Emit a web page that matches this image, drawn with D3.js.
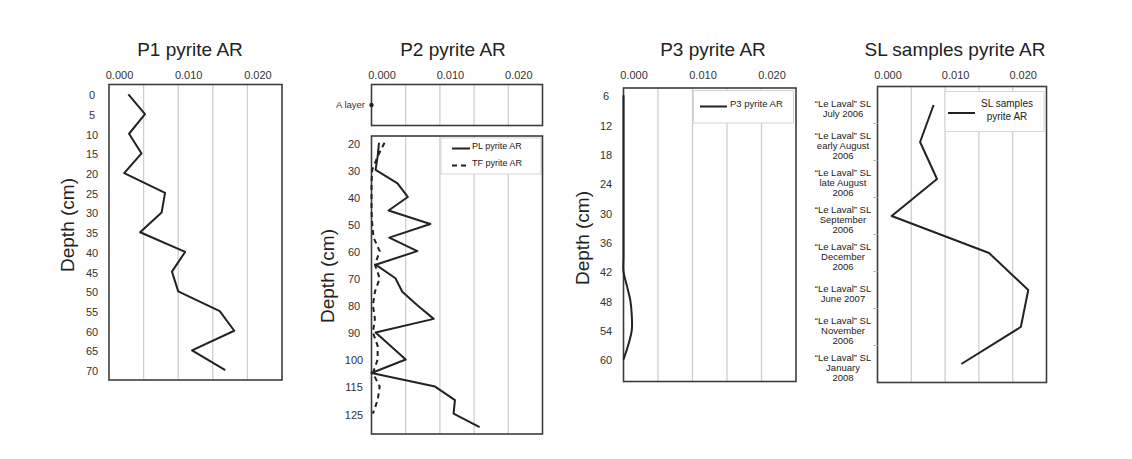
<!DOCTYPE html>
<html>
<head>
<meta charset="utf-8">
<script src="https://cdn.jsdelivr.net/npm/d3@7"></script>
<style>
  body { margin: 0; background: #fff; }
  svg { font-family: 'Liberation Sans', Arial, sans-serif; }
</style>
</head>
<body>
<svg id="chart" width="1132" height="459"></svg>
<script>
// x axis (pyrite AR) shared by all panels
const xLabelValues = [0, 0.01, 0.02];
const xGridValues = [0.005, 0.01, 0.015, 0.02];

// P1 profile
const p1Depths = ['0', '5', '10', '15', '20', '25', '30', '35', '40', '45', '50', '55', '60', '65', '70'];
const p1Values = [0.0028, 0.0052, 0.0029, 0.0047, 0.0022, 0.0081, 0.0076, 0.0045, 0.0110, 0.0091, 0.0100, 0.0160, 0.0181, 0.0120, 0.0168];

// P2 profile (A layer + PL / TF lines)
const p2ALayer = ['A layer'];
const p2ALayerValues = [0];
const p2Depths = ['20', '25', '30', '35', '40', '45', '50', '55', '60', '65', '70', '75', '80', '85', '90', '95', '100', '105', '115', '120', '125', '130'];
const p2PL = [0.0011, 0.0009, 0.0006, 0.0038, 0.0053, 0.0025, 0.0086, 0.0026, 0.0067, 0.0006, 0.0035, 0.0045, 0.0067, 0.0091, 0.0006, 0.0028, 0.0050, 0.0000, 0.0093, 0.0122, 0.0120, 0.0158];
const p2TF = [0.0019, 0.0009, 0.0001, 0, 0, 0, 0.0001, 0.0003, 0.0012, 0.0005, 0.0012, 0.0005, 0.0002, 0.0005, 0.0002, 0.0009, 0.0009, 0.0002, 0.0012, 0.0009, 0.0002];

// P3 profile
const p3Depths = ['6', '9', '12', '15', '18', '21', '24', '27', '30', '33', '36', '39', '42', '45', '48', '51', '54', '57', '60', '63'];
const p3Values = [0, 0, 0, 0, 0, 0, 0, 0, 0, 0, 0, 0, 0, 0.0005, 0.0010, 0.0012, 0.0012, 0.0007, 0];

// SL samples
const slSamples = [
  ['\u201CLe Laval\u201D SL', 'July 2006'],
  ['\u201CLe Laval\u201D SL', 'early August', '2006'],
  ['\u201CLe Laval\u201D SL', 'late August', '2006'],
  ['\u201CLe Laval\u201D SL', 'September', '2006'],
  ['\u201CLe Laval\u201D SL', 'December', '2006'],
  ['\u201CLe Laval\u201D SL', 'June 2007'],
  ['\u201CLe Laval\u201D SL', 'November', '2006'],
  ['\u201CLe Laval\u201D SL', 'January', '2008'],
];
const slValues = [0.0083, 0.0063, 0.0088, 0.0021, 0.0165, 0.0223, 0.0212, 0.0124];

const svg = d3.select('#chart');
const FONT = "'Liberation Sans', Arial, sans-serif";
const BORDER = '#3c3c3c';
const GRID = '#cfcfcf';
const INK = '#222';

function makeX(x0, x1) {
  return d3.scaleLinear().domain([0, 0.025]).range([x0, x1]);
}

function makeY(domain, top, bottom) {
  return d3.scalePoint().domain(domain).range([top, bottom]).padding(0.5);
}

function grid(x, top, bottom) {
  svg.append('g')
    .selectAll('line')
    .data(xGridValues)
    .enter()
    .append('line')
    .attr('x1', (d) => x(d))
    .attr('x2', (d) => x(d))
    .attr('y1', top)
    .attr('y2', bottom)
    .attr('stroke', GRID)
    .attr('stroke-width', 1.3);
}

function border(x, top, bottom) {
  const [x0, x1] = x.range();
  svg.append('rect')
    .attr('x', x0)
    .attr('y', top)
    .attr('width', x1 - x0)
    .attr('height', bottom - top)
    .attr('fill', 'none')
    .attr('stroke', BORDER)
    .attr('stroke-width', 1.6);
}

function topLabels(x) {
  const g = svg.append('g')
    .attr('transform', 'translate(0,82)')
    .call(d3.axisTop(x).tickValues(xLabelValues).tickFormat(d3.format('.3f')).tickSize(0))
    .attr('font-size', 11)
    .attr('font-family', FONT);
  g.select('.domain').remove();
  g.selectAll('text').attr('x', 10).attr('fill', '#333');
}

function depthLabels(y, labels, cx) {
  svg.append('g')
    .selectAll('text')
    .data(labels)
    .enter()
    .append('text')
    .attr('x', cx)
    .attr('y', (d) => y(d) + 1)
    .attr('dy', '0.35em')
    .attr('text-anchor', 'middle')
    .attr('font-size', 11)
    .attr('fill', '#333')
    .text((d) => d);
}

function title(text, cx) {
  svg.append('text')
    .attr('x', cx)
    .attr('y', 56)
    .attr('text-anchor', 'middle')
    .attr('font-size', 19)
    .attr('fill', INK)
    .text(text);
}

function depthTitle(cx, cy) {
  svg.append('text')
    .attr('transform', `translate(${cx},${cy}) rotate(-90)`)
    .attr('dy', '0.35em')
    .attr('text-anchor', 'middle')
    .attr('font-size', 19)
    .attr('fill', INK)
    .text('Depth (cm)');
}

function profile(x, y, cats, values, opts = {}) {
  const line = d3.line()
    .x((d) => x(d.v))
    .y((d) => y(d.c))
    .curve(opts.curve || d3.curveLinear);
  svg.append('path')
    .datum(values.map((v, i) => ({ c: cats[i], v })))
    .attr('d', line)
    .attr('fill', 'none')
    .attr('stroke', INK)
    .attr('stroke-width', 2)
    .attr('stroke-dasharray', opts.dash || null)
    .attr('stroke-linejoin', 'round');
}

function legendBox(x0, y0, x1, y1) {
  svg.append('rect')
    .attr('x', x0)
    .attr('y', y0)
    .attr('width', x1 - x0)
    .attr('height', y1 - y0)
    .attr('fill', '#fff')
    .attr('stroke', '#d4d4d4')
    .attr('stroke-width', 1);
}

function legendEntry(lx0, lx1, ly, lines, tx, anchor, size, dash) {
  svg.append('line')
    .attr('x1', lx0).attr('x2', lx1)
    .attr('y1', ly).attr('y2', ly)
    .attr('stroke', INK)
    .attr('stroke-width', 2)
    .attr('stroke-dasharray', dash || null);
  const t = svg.append('text')
    .attr('x', tx)
    .attr('y', ly - (lines.length - 1) * 6.5)
    .attr('dy', '0.35em')
    .attr('text-anchor', anchor)
    .attr('font-size', size)
    .attr('fill', INK);
  t.selectAll('tspan')
    .data(lines)
    .enter()
    .append('tspan')
    .attr('x', tx)
    .attr('dy', (d, i) => (i ? 13 : 0))
    .text((d) => d);
}

// ---- P1 ----
const x1 = makeX(109, 282);
const y1 = makeY(p1Depths, 84.5, 380);
grid(x1, 84.5, 380);
border(x1, 84.5, 380);
profile(x1, y1, p1Depths, p1Values);
topLabels(x1);
depthLabels(y1, p1Depths, 92);
title('P1 pyrite AR', 190);
depthTitle(67, 225);

// ---- P2 ----
const x2 = makeX(371.5, 542.5);
const yA = makeY(p2ALayer, 84.5, 125.5);
grid(x2, 84.5, 125.5);
border(x2, 84.5, 125.5);
svg.append('g')
  .selectAll('circle')
  .data(p2ALayerValues)
  .enter()
  .append('circle')
  .attr('cx', (d) => x2(d))
  .attr('cy', (d, i) => yA(p2ALayer[i]))
  .attr('r', 2.2)
  .attr('fill', INK);
svg.append('text')
  .attr('x', 365)
  .attr('y', yA(p2ALayer[0]))
  .attr('dy', '0.35em')
  .attr('text-anchor', 'end')
  .attr('font-size', 9.5)
  .attr('fill', '#333')
  .text(p2ALayer[0]);

const y2 = makeY(p2Depths, 136, 434);
grid(x2, 136, 434);
legendBox(441, 138, 541, 174);
legendEntry(452, 470, 148.5, ['PL pyrite AR'], 472, 'start', 9);
legendEntry(452, 470, 165.5, ['TF pyrite AR'], 472, 'start', 9, '5,4');
border(x2, 136, 434);
profile(x2, y2, p2Depths, p2PL);
profile(x2, y2, p2Depths, p2TF, { dash: '5,4' });
topLabels(x2);
depthLabels(y2, p2Depths.filter((d, i) => i % 2 === 0), 354);
title('P2 pyrite AR', 453);
depthTitle(327, 276);

// ---- P3 ----
const x3 = makeX(623.5, 796);
const y3 = makeY(p3Depths, 88, 381.5);
grid(x3, 88, 381.5);
legendBox(693.5, 90.5, 793.5, 123);
legendEntry(700, 727, 106.5, ['P3 pyrite AR'], 730, 'start', 9.5);
border(x3, 88, 381.5);
profile(x3, y3, p3Depths, p3Values, { curve: d3.curveCatmullRom });
topLabels(x3);
depthLabels(y3, p3Depths.filter((d, i) => i % 2 === 0), 606);
title('P3 pyrite AR', 713);
depthTitle(582, 238);

// ---- SL samples ----
const slKeys = slSamples.map((d, i) => 's' + i);
const x4 = makeX(877.5, 1046.5);
const y4 = makeY(slKeys, 86.5, 382.5);
grid(x4, 86.5, 382.5);
legendBox(945, 91.5, 1044, 131.5);
legendEntry(948, 975, 113, ['SL samples', 'pyrite AR'], 1007, 'middle', 10);
border(x4, 86.5, 382.5);
profile(x4, y4, slKeys, slValues);
topLabels(x4);

const step4 = y4.step();
svg.append('g')
  .selectAll('line')
  .data(slKeys.slice(1))
  .enter()
  .append('line')
  .attr('x1', 873)
  .attr('x2', 877.5)
  .attr('y1', (d) => y4(d) - step4 / 2)
  .attr('y2', (d) => y4(d) - step4 / 2)
  .attr('stroke', '#bbb');

const slLabel = svg.append('g')
  .selectAll('text')
  .data(slSamples)
  .enter()
  .append('text')
  .attr('text-anchor', 'middle')
  .attr('font-size', 9.5)
  .attr('fill', '#222')
  .attr('y', (d, i) => y4(slKeys[i]) + 4 - (d.length - 1) * 5);
slLabel.selectAll('tspan')
  .data((d) => d)
  .enter()
  .append('tspan')
  .attr('x', 843)
  .attr('dy', (d, i) => (i ? 10 : 3.3))
  .text((d) => d);

title('SL samples pyrite AR', 955);
</script>
</body>
</html>
